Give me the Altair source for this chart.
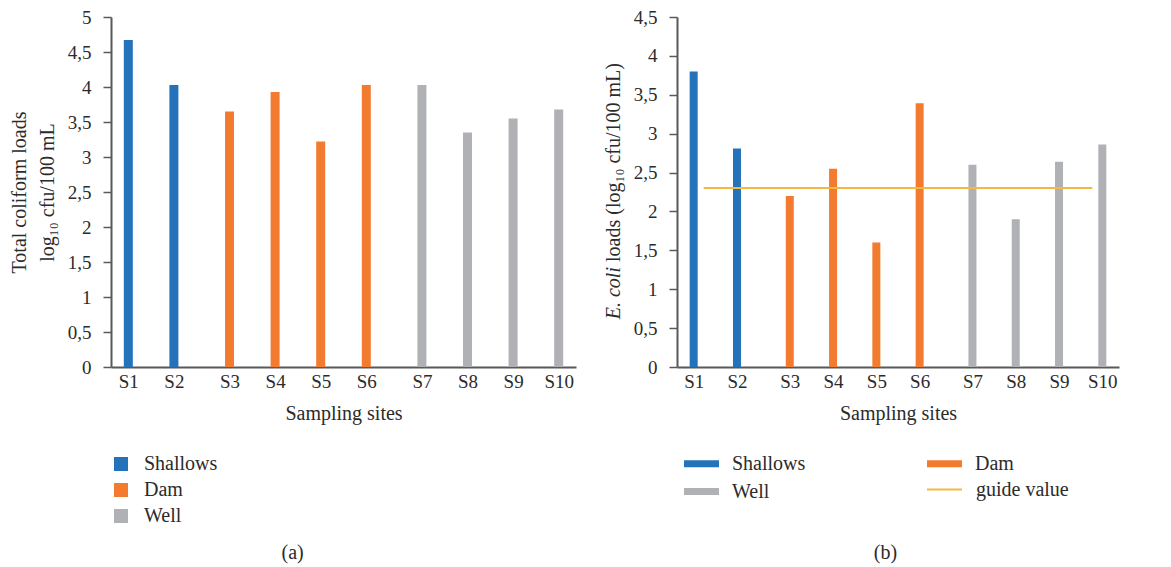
import altair as alt
import pandas as pd

# ---------------- data ----------------
sites = ["S1", "S2", "S3", "S4", "S5", "S6", "S7", "S8", "S9", "S10"]
site_types = ["Shallows", "Shallows", "Dam", "Dam", "Dam", "Dam", "Well", "Well", "Well", "Well"]
total_coliform = [4.67, 4.03, 3.65, 3.93, 3.22, 4.03, 4.03, 3.35, 3.55, 3.68]
ecoli = [3.80, 2.81, 2.20, 2.55, 1.60, 3.39, 2.60, 1.90, 2.64, 2.86]
guide_value = 2.3
type_order = ["Shallows", "Dam", "Well"]
left_ticks = [0, 0.5, 1, 1.5, 2, 2.5, 3, 3.5, 4, 4.5, 5]
right_ticks = [0, 0.5, 1, 1.5, 2, 2.5, 3, 3.5, 4, 4.5]

# ---------------- style ----------------
type_colors = ["#2372BA", "#F27B30", "#B0B1B5"]
GUIDE = "#F6B843"
FONT = "Liberation Serif"
TXT = "#2b2b2b"
AX = "#595959"
GROUP_GAP = 0.22   # extra space between site groups (in category steps)
EDGE = 0.27        # outer padding of the category axis

# category positions: sequential index plus a small gap between site groups
pos = []
gi, prev = -1, None
for i, t in enumerate(site_types):
    if t != prev:
        gi += 1
        prev = t
    pos.append(i + gi * GROUP_GAP)

# label lookup for the x axis
label_expr = "'" + sites[-1] + "'"
for i in range(len(sites) - 2, -1, -1):
    mid = (pos[i] + pos[i + 1]) / 2
    label_expr = f"datum.value < {mid:.4f} ? '{sites[i]}' : ({label_expr})"

df = pd.DataFrame({"site": sites, "type": site_types, "pos": pos,
                   "tc": total_coliform, "ec": ecoli})

x_scale = alt.Scale(domain=[pos[0] - EDGE, pos[-1] + EDGE], nice=False, zero=False)


def x_axis():
    return alt.Axis(values=pos, labelExpr=label_expr, title="Sampling sites",
                    grid=False, ticks=False, tickSize=0, domainColor=AX, domainWidth=2,
                    labelFont=FONT, labelFontSize=19, labelColor=TXT, labelPadding=5,
                    labelFlush=False, labelOverlap=False,
                    titleFont=FONT, titleFontSize=20, titleFontWeight="normal",
                    titleColor=TXT, titlePadding=12)


def y_axis(vals, title):
    kw = dict(values=vals, labelExpr="replace(format(datum.value, '~g'), '.', ',')",
              grid=False, tickSize=8, tickColor=AX, tickWidth=1.5,
              domainColor=AX, domainWidth=2, labelFont=FONT, labelFontSize=19,
              labelColor=TXT, labelPadding=12, labelOverlap=False, labelFlush=False)
    if title is None:
        kw["title"] = None
    else:
        kw.update(title=title, titleFont=FONT, titleFontSize=20, titleFontWeight="normal",
                  titleColor=TXT, titlePadding=10, titleLineHeight=28)
    return alt.Axis(**kw)


color_scale = alt.Scale(domain=type_order, range=type_colors)

legend_common = dict(orient="none", title=None, labelFont=FONT, labelFontSize=20,
                     labelColor=TXT, labelOffset=13, symbolStrokeWidth=0)


def caption(s, offset, dx=0):
    return alt.TitleParams(s, orient="bottom", anchor="middle", frame="bounds",
                           offset=offset, dx=dx, font=FONT, fontSize=20,
                           fontWeight="normal", color=TXT)


# ---------------- (a) total coliform ----------------
left = alt.Chart(df).mark_bar(size=9).encode(
    x=alt.X("pos:Q", scale=x_scale, axis=x_axis()),
    y=alt.Y("tc:Q", scale=alt.Scale(domain=[0, 5], nice=False),
            axis=y_axis(left_ticks, ["Total coliform loads", "log₁₀ cfu/100 mL"])),
    color=alt.Color("type:N", scale=color_scale,
                    legend=alt.Legend(legendX=0, legendY=437, direction="vertical",
                                      symbolType="square", symbolSize=196, rowPadding=6,
                                      **legend_common)),
).properties(width=465, height=350, title=caption("(a)", 17))

# ---------------- (b) E. coli ----------------
y_right = alt.Scale(domain=[0, 4.5], nice=False)
bars_r = alt.Chart(df).mark_bar(size=8).encode(
    x=alt.X("pos:Q", scale=x_scale, axis=x_axis()),
    y=alt.Y("ec:Q", scale=y_right, axis=y_axis(right_ticks, None)),
    color=alt.Color("type:N", scale=color_scale,
                    legend=alt.Legend(legendX=7, legendY=429, columns=2, columnPadding=121,
                                      values=["Shallows", "Well", "Dam"], rowPadding=-10,
                                      symbolType="M-1,-0.2H1V0.2H-1Z", symbolSize=1225,
                                      **legend_common)),
)

guide_df = pd.DataFrame({"label": ["guide value"], "ec": [guide_value],
                         "pos": [pos[0]], "pos_end": [pos[-1]]})
rule = alt.Chart(guide_df).mark_rule(strokeWidth=2, xOffset=10, x2Offset=-10).encode(
    x=alt.X("pos:Q", scale=x_scale, axis=x_axis()),
    x2="pos_end:Q",
    y=alt.Y("ec:Q", scale=y_right, axis=y_axis(right_ticks, None)),
    stroke=alt.Stroke("label:N", scale=alt.Scale(domain=["guide value"], range=[GUIDE]),
                      legend=alt.Legend(orient="none", legendX=249, legendY=454, title=None,
                                        symbolType="stroke", symbolSize=1225,
                                        symbolStrokeWidth=2, labelFont=FONT,
                                        labelFontSize=20, labelColor=TXT, labelOffset=13)),
)

ttl = pd.DataFrame({"a": ["E. coli"], "b": ["loads (log₁₀ cfu/100 mL)"]})
t_italic = alt.Chart(ttl).mark_text(angle=270, align="right", baseline="middle", font=FONT,
                                    fontSize=20, fontStyle="italic", color=TXT).encode(
    text="a:N", x=alt.value(-63), y=alt.value(250))
t_rest = alt.Chart(ttl).mark_text(angle=270, align="left", baseline="middle", font=FONT,
                                  fontSize=20, color=TXT).encode(
    text="b:N", x=alt.value(-63), y=alt.value(245))

right = alt.layer(bars_r, rule, t_italic, t_rest).properties(
    width=442, height=350, title=caption("(b)", 41, dx=24))

chart = alt.hconcat(left, right, spacing=27).resolve_scale(
    color="independent", stroke="independent", x="independent", y="independent"
).resolve_legend(color="independent", stroke="independent").configure(
    background="white",
    padding={"top": 0, "left": 1, "right": 5, "bottom": 5},
).configure_view(stroke=None)

chart.save("out.html", embed_options={"renderer": "svg", "actions": False})
